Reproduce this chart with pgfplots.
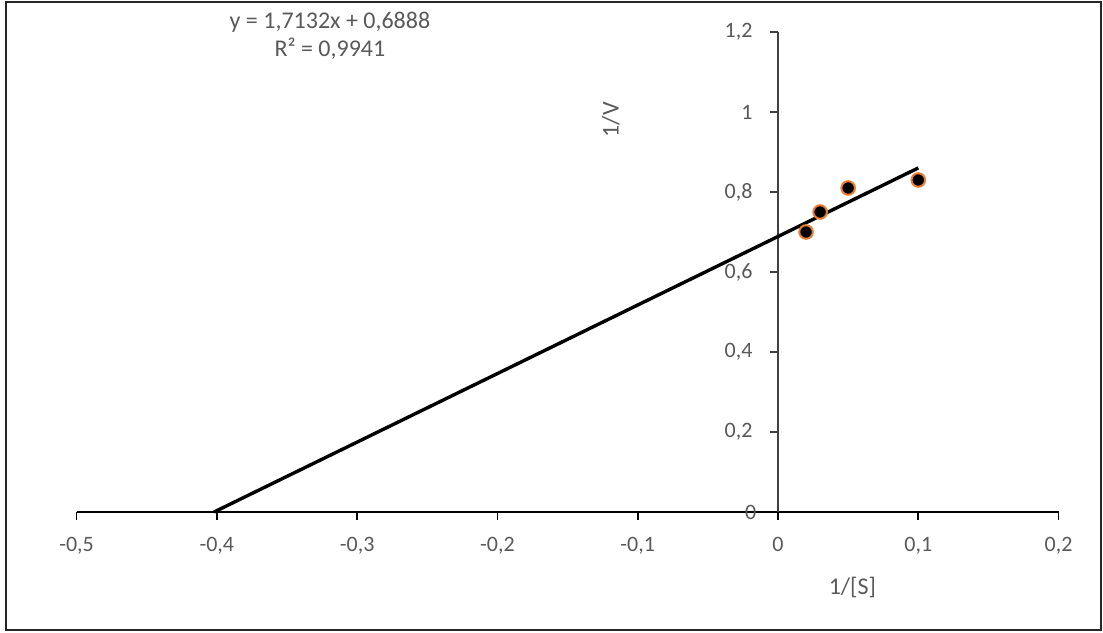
\documentclass[border=0pt]{standalone}
\usepackage{pgfplots}
\pgfplotsset{compat=1.18}
\usepackage{fontspec}
\setmainfont{Carlito}
\definecolor{txtgray}{HTML}{595959}
\definecolor{mkorange}{HTML}{ED7D31}
\begin{document}
\begin{tikzpicture}[x=1pt,y=1pt]
\useasboundingbox (0,0) rectangle (1103,632);
\draw[line width=1.8pt, black!85] (6,2) rectangle (1101,630);
\begin{axis}[
  at={(778pt,120pt)}, anchor=origin,
  scale only axis, width=982pt, height=480pt,
  xmin=-0.5, xmax=0.2, ymin=0, ymax=1.2,
  axis lines=middle,
  axis line style={-},
  x axis line style={line width=1.6pt, black},
  y axis line style={line width=1.2pt, black!75},
  xtick={-0.5,-0.4,-0.3,-0.2,-0.1,0,0.1,0.2},
  ytick={0.2,0.4,0.6,0.8,1,1.2},
  hide obscured x ticks=false,
  tick align=outside, major tick length=8pt,
  x tick style={line width=1.6pt, black},
  y tick style={line width=1.2pt, black!75},
  /pgf/number format/.cd, use comma, fixed, assume math mode=true, /pgfplots/.cd,
  tick label style={font=\fontsize{22}{26}\selectfont, text=txtgray},
  xticklabel style={anchor=north, yshift=-14pt},
  yticklabel style={anchor=east, xshift=-14pt},
  clip=false,
]
\addplot[line width=3.4pt, black] coordinates {(-0.402,0) (0.1,0.8601)};
\addplot[only marks, mark=*, mark size=6.8pt, mark options={fill=black, draw=mkorange, line width=2pt}]
  coordinates {(0.02,0.70) (0.03,0.75) (0.05,0.81) (0.1,0.83)};
\node[font=\fontsize{22}{26}\selectfont, text=txtgray] at (rel axis cs:0.6864,0) {0};
\node[font=\fontsize{24}{28}\selectfont, text=txtgray, rotate=90] at (rel axis cs:0.544,0.817) {1/V};
\node[font=\fontsize{24}{28}\selectfont, text=txtgray] at (rel axis cs:0.790,-0.158) {1/[S]};
\node[font=\fontsize{24}{28}\selectfont, text=txtgray] at (rel axis cs:0.258,1.021) {y = 1,7132x + 0,6888};
\node[font=\fontsize{24}{28}\selectfont, text=txtgray] at (rel axis cs:0.258,0.965) {R² = 0,9941};
\end{axis}
\end{tikzpicture}
\end{document}
